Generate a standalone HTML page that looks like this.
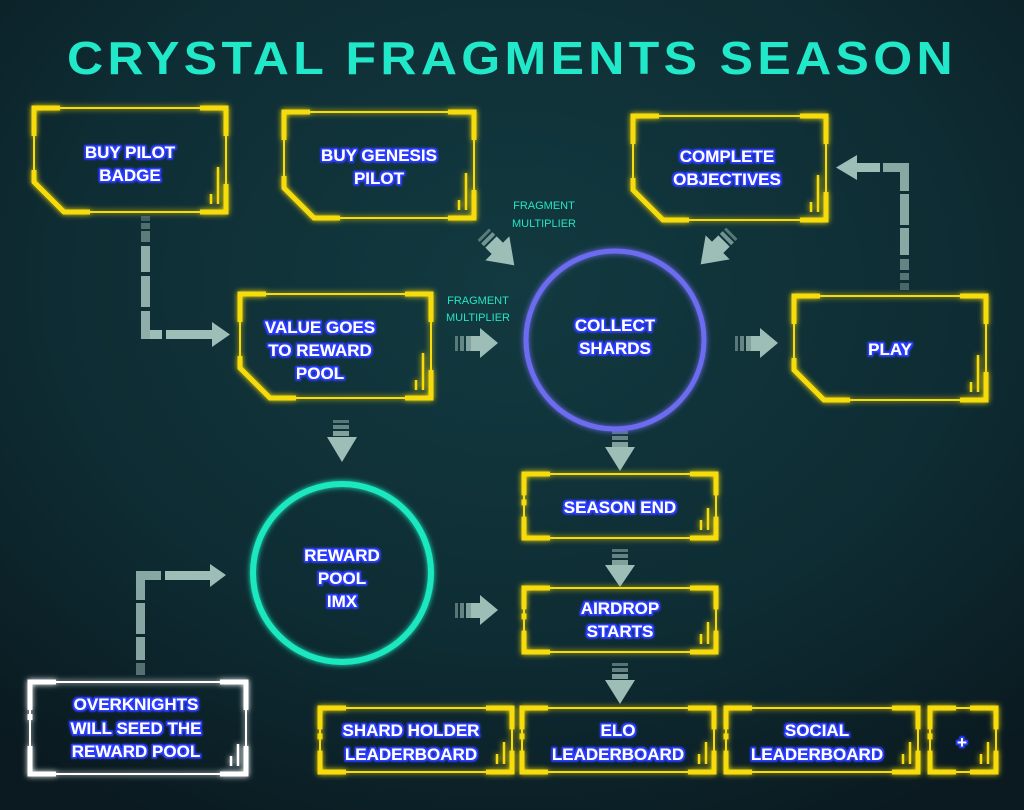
<!DOCTYPE html>
<html><head><meta charset="utf-8">
<style>
html,body{margin:0;padding:0;width:1024px;height:810px;overflow:hidden;background:#0b1f25;}
svg{display:block}
.t{font-family:"Liberation Sans",sans-serif;font-weight:bold;fill:#fff;font-size:17px;text-anchor:middle;filter:url(#bg)}
.fm{font-family:"Liberation Sans",sans-serif;fill:#27e3c4;font-size:11px;text-anchor:middle}
</style></head><body>
<svg id="s" width="1024" height="810" viewBox="0 0 1024 810" xmlns="http://www.w3.org/2000/svg">
<defs>
<radialGradient id="g" cx="50%" cy="35%" r="75%">
<stop offset="0" stop-color="#123a40"/><stop offset="0.6" stop-color="#0e2c33"/><stop offset="1" stop-color="#0a1a20"/>
</radialGradient>
<filter id="bg" x="-20%" y="-50%" width="140%" height="200%">
<feMorphology in="SourceAlpha" operator="dilate" radius="1.3" result="d"/>
<feFlood flood-color="#2a3cff"/><feComposite in2="d" operator="in" result="o"/>
<feGaussianBlur in="o" stdDeviation="1.2" result="b"/>
<feMerge><feMergeNode in="b"/><feMergeNode in="o"/><feMergeNode in="SourceGraphic"/></feMerge>
</filter>
<filter id="glow" x="-20%" y="-20%" width="140%" height="140%">
<feGaussianBlur stdDeviation="3" result="b"/><feMerge><feMergeNode in="b"/><feMergeNode in="SourceGraphic"/></feMerge>
</filter>
</defs>
<rect width="1024" height="810" fill="url(#g)"/>
<g id="frames"></g>
<g id="arrows" fill="#9dbdb7"></g>

<circle cx="615" cy="340" r="89" fill="none" stroke="#6d6cf0" stroke-width="5" filter="url(#glow)"/>
<circle cx="342" cy="573" r="89" fill="none" stroke="#1ee8bf" stroke-width="6" filter="url(#glow)"/>

<text x="512" y="74" font-family="Liberation Sans, sans-serif" font-weight="bold" font-size="46" fill="#20e8c8" text-anchor="middle" textLength="890" lengthAdjust="spacingAndGlyphs" style="letter-spacing:4px">CRYSTAL FRAGMENTS SEASON</text>

<text class="t" x="130" y="158">BUY PILOT</text><text class="t" x="130" y="181">BADGE</text>
<text class="t" x="379" y="161">BUY GENESIS</text><text class="t" x="379" y="184">PILOT</text>
<text class="t" x="727" y="162">COMPLETE</text><text class="t" x="727" y="185">OBJECTIVES</text>
<text class="t" x="320" y="333">VALUE GOES</text><text class="t" x="320" y="356">TO REWARD</text><text class="t" x="320" y="379">POOL</text>
<text class="t" x="890" y="355">PLAY</text>
<text class="t" x="615" y="331">COLLECT</text><text class="t" x="615" y="354">SHARDS</text>
<text class="t" x="342" y="561">REWARD</text><text class="t" x="342" y="584">POOL</text><text class="t" x="342" y="607">IMX</text>
<text class="t" x="620" y="513">SEASON END</text>
<text class="t" x="620" y="614">AIRDROP</text><text class="t" x="620" y="637">STARTS</text>
<text class="t" x="411" y="736">SHARD HOLDER</text><text class="t" x="411" y="760">LEADERBOARD</text>
<text class="t" x="618" y="736">ELO</text><text class="t" x="618" y="760">LEADERBOARD</text>
<text class="t" x="817" y="736">SOCIAL</text><text class="t" x="817" y="760">LEADERBOARD</text>
<text class="t" x="962" y="748">+</text>
<text class="t" x="136" y="710">OVERKNIGHTS</text><text class="t" x="136" y="734">WILL SEED THE</text><text class="t" x="136" y="757">REWARD POOL</text>

<text class="fm" x="544" y="209">FRAGMENT</text><text class="fm" x="544" y="227">MULTIPLIER</text>
<text class="fm" x="478" y="304">FRAGMENT</text><text class="fm" x="478" y="321">MULTIPLIER</text>
</svg>
<script>
var NS="http://www.w3.org/2000/svg";
function el(p,tag,a){var e=document.createElementNS(NS,tag);for(var k in a)e.setAttribute(k,a[k]);p.appendChild(e);return e;}
var F=document.getElementById('frames');
function box(x0,y0,x1,y1,ch,col){
  var g=el(F,'g',{fill:'none',stroke:col,filter:'url(#glow)'});
  var c=ch?30:0;
  el(g,'path',{d:'M'+x0+','+y0+'H'+x1+'V'+y1+'H'+(x0+c)+'L'+x0+','+(y1-c)+'Z','stroke-width':2});
  var t=5,L=26,V=Math.min(28,(y1-y0)/3);
  var p='M'+x0+','+(y0+V)+'V'+y0+'H'+(x0+L)+
        'M'+(x1-L)+','+y0+'H'+x1+'V'+(y0+V)+
        'M'+x1+','+(y1-V)+'V'+y1+'H'+(x1-L);
  if(ch){p+='M'+(x0+c+L)+','+y1+'H'+(x0+c)+'L'+x0+','+(y1-c)+'V'+(y1-c-12);}
  else{p+='M'+(x0+L)+','+y1+'H'+x0+'V'+(y1-V)+'M'+x0+','+(y0+V+10)+'V'+(y0+V+4);}
  el(g,'path',{d:p,'stroke-width':t,'stroke-linejoin':'miter'});
  el(g,'path',{d:'M'+(x1-8)+','+(y1-8)+'V'+(y1-(ch?45:30))+'M'+(x1-15)+','+(y1-8)+'V'+(y1-18),'stroke-width':2.5});
}
var Y='#f7dc0c';
box(34,108,226,212,1,Y);box(284,112,474,218,1,Y);box(633,116,826,220,1,Y);
box(240,294,431,398,1,Y);box(794,296,986,400,1,Y);
box(524,474,716,538,0,Y);box(524,588,716,652,0,Y);
box(320,708,512,772,0,Y);box(522,708,714,772,0,Y);box(726,708,918,772,0,Y);box(930,708,996,772,0,Y);
box(30,682,246,774,0,'#ffffff');
var A=document.getElementById('arrows');
function rect(x,y,w,h,o){el(A,'rect',{x:x,y:y,width:w,height:h,opacity:(o===undefined?1:o)});}
function head(pts){el(A,'polygon',{points:pts});}
// buy pilot badge -> value
rect(141,216,9,5,.35);rect(141,223,9,6,.45);rect(141,231,9,11,.55);rect(141,246,9,26,.9);rect(141,276,9,31,.9);rect(141,311,9,28,.9);rect(150,330,12,9);rect(166,330,46,9);head('212,322 230,334.5 212,347');
// down from value
rect(333,420,16,3,.5);rect(333,425,16,4,.6);rect(333,431,16,5,.8);head('327,437 357,437 342,462');
// right to collect
rect(455,336,3,15,.5);rect(460,336,4,15,.6);rect(466,336,5,15,.8);rect(471,336,10,15);head('480,328 480,358 498,343');
// diagonal to collect
var arr='<rect x="-28" y="-8" width="3" height="16" opacity=".5"/><rect x="-23" y="-8" width="4" height="16" opacity=".7"/><rect x="-17" y="-8" width="10" height="16"/><polygon points="-8,-17 -8,17 16,0"/>';
el(A,'g',{transform:'translate(503,254) rotate(45)'}).innerHTML=arr;
el(A,'g',{transform:'translate(712,253) rotate(135)'}).innerHTML=arr;
// collect -> play
rect(735,336,3,15,.5);rect(740,336,4,15,.6);rect(746,336,5,15,.8);rect(751,336,10,15);head('760,328 760,358 778,343');
// play -> objectives
rect(900,283,9,7,.4);rect(900,273,9,7,.5);rect(900,259,9,11,.6);rect(900,228,9,27,.85);rect(900,194,9,31,.85);rect(900,163,9,28,.85);
rect(883,163,17,9,.85);rect(857,163,23,9);head('857,155 857,180 836,167.5');
// collect down
rect(612,431,16,3,.5);rect(612,436,16,4,.6);rect(612,442,16,5,.8);head('605,447 635,447 620,471');
rect(612,549,16,3,.5);rect(612,554,16,4,.6);rect(612,560,16,5,.8);head('605,565 635,565 620,587');
rect(612,663,16,3,.5);rect(612,668,16,4,.6);rect(612,674,16,5,.8);head('605,680 635,680 620,704');
// reward -> airdrop
rect(455,603,3,15,.5);rect(460,603,4,15,.6);rect(466,603,5,15,.8);rect(471,603,10,15);head('480,595 480,625 498,610');
// overknights -> reward
rect(136,663,9,12,.5);rect(136,637,9,23,.85);rect(136,603,9,31,.85);rect(136,571,9,29,.85);rect(145,571,16,9,.85);rect(165,571,46,9);head('210,564 226,575 210,587');
</script>
</body></html>
